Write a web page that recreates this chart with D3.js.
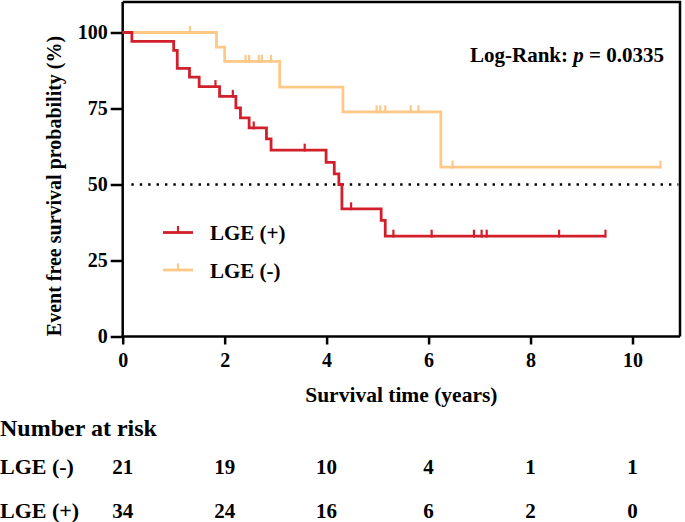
<!DOCTYPE html>
<html>
<head>
<meta charset="utf-8">
<script src="https://cdn.jsdelivr.net/npm/d3@7"></script>
<style>
  html, body { margin: 0; padding: 0; background: #fff; }
  svg { display: block; }
  text { font-family: "Liberation Serif", "Times New Roman", serif; font-weight: bold; fill: #000; }
</style>
</head>
<body>
<svg id="chart" width="685" height="522"></svg>
<script>
// ---- data ----
const xTicks = [0, 2, 4, 6, 8, 10];
const yTicks = [0, 25, 50, 75, 100];

// LGE (+): event times and survival (%) after each step
const posTimes = [0, 0.18, 1.00, 1.07, 1.31, 1.50, 1.90, 2.22, 2.31, 2.48, 2.82, 2.91, 3.99, 4.15, 4.24, 4.30, 5.07, 5.15, 9.47];
const posSurv  = [100, 97.1, 94.1, 88.2, 85.3, 82.2, 79.0, 75.2, 71.9, 68.6, 65.0, 61.3, 57.3, 53.5, 50.0, 42.0, 38.2, 33.0, 33.0];
const posCensor = [1.82, 2.16, 2.57, 3.57, 4.48, 5.31, 6.06, 6.89, 7.04, 7.14, 8.56, 9.47];

// LGE (-)
const negTimes = [0, 1.84, 2.00, 3.08, 4.32, 6.24, 10.55];
const negSurv  = [100, 95.2, 90.5, 82.0, 73.9, 55.7, 55.7];
const negCensor = [1.32, 2.41, 2.48, 2.67, 2.73, 2.91, 4.98, 5.05, 5.15, 5.65, 5.80, 6.47, 10.55];

const riskLabels = ["LGE (-)", "LGE (+)"];
const riskNeg = [21, 19, 10, 4, 1, 1];
const riskPos = [34, 24, 16, 6, 2, 0];

const RED = "#D1202B";
const ORANGE = "#FFC887";

// ---- layout ----
const svg = d3.select("#chart");
const x = d3.scaleLinear().domain([0, 10]).range([122.7, 632.5]);
const y = d3.scaleLinear().domain([0, 100]).range([336.5, 32.5]);
const plotTop = y(110), plotRight = 680;

// frame (top and right)
svg.append("path")
  .attr("d", `M${x(0)},${plotTop} H${plotRight} V${y(0)}`)
  .attr("fill", "none").attr("stroke", "#000").attr("stroke-width", 2.5);

// axes
const xAxis = svg.append("g").attr("transform", `translate(0,${y(0)})`)
  .call(d3.axisBottom(x).tickValues(xTicks).tickSize(8).tickPadding(8).tickSizeOuter(0));
const yAxis = svg.append("g").attr("transform", `translate(${x(0)},0)`)
  .call(d3.axisLeft(y).tickValues(yTicks).tickSize(12).tickPadding(3).tickSizeOuter(0));
[xAxis, yAxis].forEach(g => {
  g.select(".domain").remove();
  g.selectAll(".tick line").attr("stroke", "#000").attr("stroke-width", 2.5);
  g.selectAll(".tick text").style("font-family", "'Liberation Serif', serif")
    .style("font-weight", "bold").style("font-size", "20px").attr("fill", "#000");
});
svg.append("line").attr("x1", x(0)).attr("x2", x(0)).attr("y1", plotTop).attr("y2", y(0) + 1.25)
  .attr("stroke", "#000").attr("stroke-width", 2.5);
svg.append("line").attr("x1", x(0) - 1.25).attr("x2", plotRight).attr("y1", y(0)).attr("y2", y(0))
  .attr("stroke", "#000").attr("stroke-width", 2.5);

// median dotted line
svg.append("line").attr("x1", x(0.17)).attr("x2", x(10.9)).attr("y1", y(50)).attr("y2", y(50))
  .attr("stroke", "#000").attr("stroke-width", 2.4).attr("stroke-dasharray", "2.4 6");

// curves
const line = d3.line().x(d => x(d[0])).y(d => y(d[1])).curve(d3.curveStepAfter);
function survAt(times, surv, t) {
  let s = surv[0];
  for (let i = 0; i < times.length; i++) if (times[i] <= t) s = surv[i];
  return s;
}
function drawCurve(times, surv, censor, color) {
  svg.append("path").datum(times.map((t, i) => [t, surv[i]]))
    .attr("d", line).attr("fill", "none").attr("stroke", color).attr("stroke-width", 2.8);
  svg.append("g").selectAll("line").data(censor).join("line")
    .attr("x1", d => x(d)).attr("x2", d => x(d))
    .attr("y1", d => y(survAt(times, surv, d)) + 1.4)
    .attr("y2", d => y(survAt(times, surv, d)) - 6.5)
    .attr("stroke", color).attr("stroke-width", 2.2);
}
drawCurve(negTimes, negSurv, negCensor, ORANGE);
drawCurve(posTimes, posSurv, posCensor, RED);

// legend
const legend = [{label: "LGE (+)", color: RED, yy: 232.5}, {label: "LGE (-)", color: ORANGE, yy: 270}];
legend.forEach(l => {
  svg.append("line").attr("x1", 163).attr("x2", 193).attr("y1", l.yy).attr("y2", l.yy)
    .attr("stroke", l.color).attr("stroke-width", 2.8);
  svg.append("line").attr("x1", 178).attr("x2", 178).attr("y1", l.yy).attr("y2", l.yy - 6.5)
    .attr("stroke", l.color).attr("stroke-width", 2.2);
  svg.append("text").attr("x", 210).attr("y", l.yy + 7.5).style("font-size", "21px").text(l.label);
});

// log-rank
const lr = svg.append("text").attr("x", 664).attr("y", 62).attr("text-anchor", "end").style("font-size", "21px");
lr.append("tspan").text("Log-Rank: ");
lr.append("tspan").style("font-style", "italic").text("p");
lr.append("tspan").text(" = 0.0335");

// axis titles
svg.append("text").attr("x", (x(0) + plotRight) / 2).attr("y", 402).attr("text-anchor", "middle")
  .style("font-size", "21.5px").text("Survival time (years)");
svg.append("text").attr("transform", `translate(61,186) rotate(-90)`).attr("text-anchor", "middle")
  .style("font-size", "20px").text("Event free survival probability (%)");

// number at risk table
svg.append("text").attr("x", 0).attr("y", 436).style("font-size", "24px").text("Number at risk");
const rows = [riskNeg, riskPos];
rows.forEach((r, i) => {
  const yy = 474 + i * 44;
  svg.append("text").attr("x", 0).attr("y", yy).style("font-size", "22px").text(riskLabels[i]);
  svg.append("g").selectAll("text").data(r).join("text")
    .attr("x", (d, j) => x(xTicks[j])).attr("y", yy).attr("text-anchor", "middle")
    .style("font-size", "21px").text(d => d);
});
</script>
</body>
</html>
